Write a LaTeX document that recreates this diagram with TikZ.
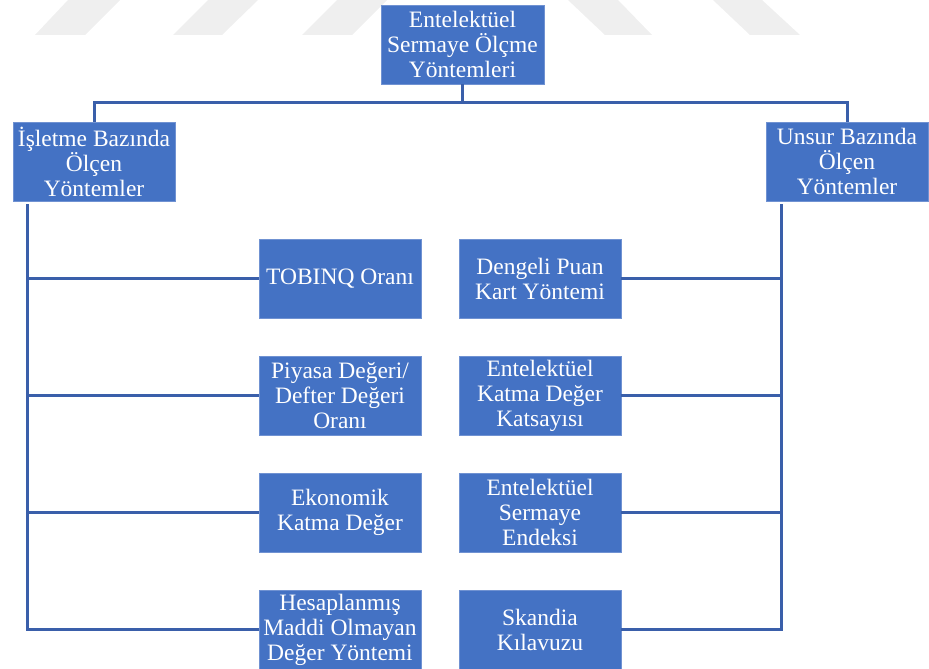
\documentclass[tikz,border=0pt]{standalone}
\usepackage{fontspec}
\setmainfont{Liberation Serif}
\usepackage{tikz}
\definecolor{boxblue}{RGB}{68,114,196}
\definecolor{boxedge}{RGB}{112,146,210}
\definecolor{lineblue}{RGB}{58,95,170}
\definecolor{markgray}{RGB}{239,239,239}
\begin{document}
\begin{tikzpicture}[x=1pt, y=-1pt,
		box_style/.style={rectangle,draw=boxedge,line width=0.8pt,fill=boxblue,text=white,
			minimum width=162pt,minimum height=79pt,inner sep=0pt,align=center,
			font=\fontsize{23.5}{25}\selectfont},
		edge_style/.style={draw=lineblue,line width=3pt},
		mark_style/.style={fill=markgray,draw=none}]
		\useasboundingbox (0,0) rectangle (929,669);

		% faint watermark
		\fill[mark_style] (35,35) -- (85,35) -- (120,0) -- (68,0) -- cycle;
		\fill[mark_style] (173,35) -- (222,35) -- (258,0) -- (208,0) -- cycle;
		\fill[mark_style] (302,35) -- (352,35) -- (387,0) -- (337,0) -- cycle;
		\fill[mark_style] (568,0) -- (618,0) -- (652,35) -- (605,35) -- cycle;
		\fill[mark_style] (713,0) -- (762,0) -- (800,35) -- (750,35) -- cycle;

		\node[box_style, minimum width=163pt] (top) at (462.5,44.5) {Entelektüel\\Sermaye Ölçme\\Yöntemleri};
		\node[box_style] (isl) at (94,161.5) {İşletme Bazında\\Ölçen\\Yöntemler};
		\node[box_style] (uns) at (847,161.5) {Unsur Bazında\\Ölçen\\Yöntemler};

		\node[box_style] (t1) at (340,278.5) {TOBINQ Oranı};
		\node[box_style] (t2) at (340,395.5) {Piyasa Değeri/\\Defter Değeri\\Oranı};
		\node[box_style] (t3) at (340,512.5) {Ekonomik\\Katma Değer};
		\node[box_style] (t4) at (340,629.5) {Hesaplanmış\\Maddi Olmayan\\Değer Yöntemi};

		\node[box_style] (u1) at (540,278.5) {Dengeli Puan\\Kart Yöntemi};
		\node[box_style] (u2) at (540,395.5) {Entelektüel\\Katma Değer\\Katsayısı};
		\node[box_style] (u3) at (540,512.5) {Entelektüel\\Sermaye\\Endeksi};
		\node[box_style] (u4) at (540,629.5) {Skandia\\Kılavuzu};

		\coordinate (bus) at (462.5,102.5);
		\draw[edge_style] (top.south) -- (bus);
		\draw[edge_style] (bus) -| (isl.north);
		\draw[edge_style] (bus) -| (uns.north);

		\foreach \n in {t1,t2,t3,t4}
			\draw[edge_style] ([xshift=15pt,yshift=-3pt]isl.south west) |- (\n.west);
		\foreach \n in {u1,u2,u3,u4}
			\draw[edge_style] ([xshift=16pt,yshift=-3pt]uns.south west) |- (\n.east);
\end{tikzpicture}
\end{document}
